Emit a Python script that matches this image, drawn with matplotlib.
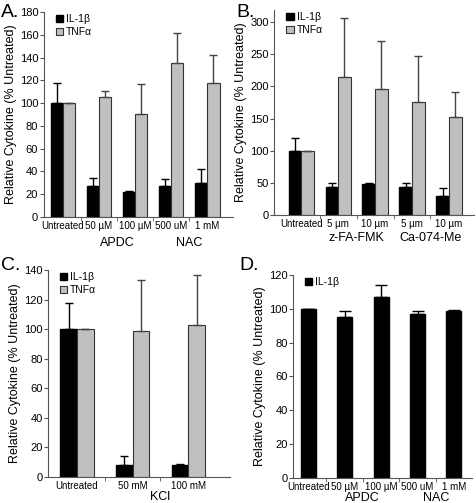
import matplotlib.pyplot as plt

plt.rcParams['font.family'] = ['Liberation Sans', 'DejaVu Sans']

black = '#000000'
grey = '#c0c0c0'
edge = '#333333'

# Panel A
a_cats = ["Untreated", "50 \u00b5M", "100 \u00b5M", "500 uM", "1 mM"]
a_il1b = [100, 27, 22, 27, 30]
a_il1b_err = [18, 7, 1, 6, 12]
a_tnf = [100, 105, 90, 135, 118]
a_tnf_err = [0, 6, 27, 27, 24]

# Panel B
b_cats = ["Untreated", "5 \u00b5m", "10 \u00b5m", "5 \u00b5m", "10 \u00b5m"]
b_il1b = [100, 43, 48, 44, 29]
b_il1b_err = [19, 7, 1, 6, 13]
b_tnf = [100, 215, 196, 175, 152]
b_tnf_err = [0, 92, 75, 72, 39]

# Panel C
c_cats = ["Untreated", "50 mM", "100 mM"]
c_il1b = [100, 8, 8]
c_il1b_err = [18, 6, 1]
c_tnf = [100, 99, 103]
c_tnf_err = [0, 34, 34]

# Panel D
d_cats = ["Untreated", "50 \u00b5M", "100 \u00b5M", "500 uM", "1 mM"]
d_il1b = [100, 95, 107, 97, 99]
d_il1b_err = [0, 4, 7, 2, 0.5]


def panel(rect, cats, il, il_err, tnf, tnf_err, ymax, ytop, ystep,
          xlim, width, groups, group_dy, letter, letter_xy):
    ax = fig.add_axes(rect)
    x = list(range(len(cats)))
    if tnf is None:
        ax.bar(x, il, width, color=black, edgecolor=black, label='IL-1\u03b2')
        ax.errorbar(x, il, yerr=[[0] * len(il), il_err], fmt='none',
                    ecolor=black, elinewidth=1, capsize=4)
    else:
        xi = [i - width / 2 for i in x]
        xt = [i + width / 2 for i in x]
        ax.bar(xi, il, width, color=black, edgecolor=black, label='IL-1\u03b2')
        ax.bar(xt, tnf, width, color=grey, edgecolor=edge, linewidth=0.8,
               label='TNF\u03b1')
        ax.errorbar(xi, il, yerr=[[0] * len(il), il_err], fmt='none',
                    ecolor=black, elinewidth=1, capsize=3)
        ax.errorbar(xt, tnf, yerr=[[0] * len(tnf), tnf_err], fmt='none',
                    ecolor='#444444', elinewidth=1, capsize=3)
    ax.set_xlim(*xlim)
    ax.set_ylim(0, ytop)
    ax.set_yticks(range(0, ymax + 1, ystep))
    ax.set_xticks(x)
    ax.set_xticklabels(cats, fontsize=7.0)
    ax.set_xticks([i + 0.5 for i in x[:-1]], minor=True)
    ax.tick_params(axis='x', which='major', length=0, pad=3)
    ax.tick_params(axis='x', which='minor', length=3, color='#555555')
    ax.tick_params(axis='y', labelsize=8, length=3, color='#555555', pad=1)
    for s in ['top', 'right']:
        ax.spines[s].set_visible(False)
    for s in ['left', 'bottom']:
        ax.spines[s].set_color('#555555')
    ax.set_ylabel('Relative Cytokine (% Untreated)', fontsize=9, labelpad=2)
    ax.legend(loc='upper left', bbox_to_anchor=(0.03, 1.02), frameon=False,
              fontsize=7.5, handlelength=0.7, handleheight=0.7,
              handletextpad=0.3, labelspacing=0.3, borderaxespad=0.2)
    h = rect[3] * fig.get_figheight() * 72
    for name, xc in groups:
        ax.text(xc, -group_dy / h, name, transform=ax.get_xaxis_transform(),
                ha='center', va='center', fontsize=9)
    fig.text(letter_xy[0], letter_xy[1], letter, fontsize=14,
             ha='left', va='center')
    return ax


fig = plt.figure(figsize=(4.76, 5.03), dpi=100)

panel([0.092, 0.569, 0.398, 0.407], a_cats, a_il1b, a_il1b_err, a_tnf, a_tnf_err,
      180, 180, 20, (-0.53, 4.72), 0.34, [("APDC", 1.5), ("NAC", 3.5)], 19,
      "A.", (0.002, 0.975))
panel([0.576, 0.573, 0.42, 0.407], b_cats, b_il1b, b_il1b_err, b_tnf, b_tnf_err,
      300, 319, 50, (-0.73, 4.68), 0.34,
      [("z-FA-FMK", 1.5), ("Ca-074-Me", 3.5)], 17, "B.", (0.497, 0.975))
panel([0.101, 0.052, 0.382, 0.411], c_cats, c_il1b, c_il1b_err, c_tnf, c_tnf_err,
      140, 140, 20, (-0.52, 2.75), 0.3, [("KCl", 1.5)], 14.5,
      "C.", (0.002, 0.473))
panel([0.616, 0.050, 0.376, 0.403], d_cats, d_il1b, d_il1b_err, None, None,
      120, 120, 20, (-0.41, 4.5), 0.41, [("APDC", 1.5), ("NAC", 3.5)], 14.5,
      "D.", (0.503, 0.473))

fig.savefig('out.png', dpi=100)
